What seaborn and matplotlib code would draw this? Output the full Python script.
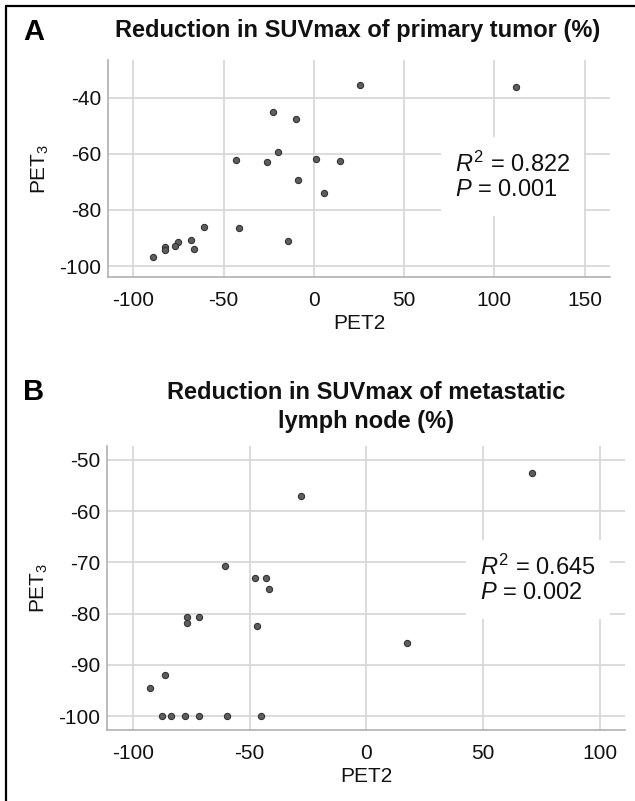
import matplotlib
matplotlib.use("Agg")
import matplotlib.pyplot as plt
from matplotlib.lines import Line2D
import seaborn as sns
import pandas as pd

# ---- data ----
pet2_a = [25.3, 112.0, -22.9, -10.0, -19.7, -43.2, -25.8, 1.1, 14.6, -8.9, 5.5,
          -60.7, -41.5, -14.4, -68.3, -66.4, -75.3, -76.9, -82.5, -82.5, -88.9]
pet3_a = [-35.4, -36.0, -44.9, -47.6, -59.4, -62.3, -62.9, -61.9, -62.6, -69.2, -74.1,
          -86.2, -86.6, -91.0, -90.6, -93.9, -91.3, -92.7, -93.3, -94.2, -96.8]

pet2_b = [71.1, -28.1, -60.7, -47.6, -43.0, -41.6, -76.6, -71.7, -76.6, -47.0, 17.4,
          -86.0, -92.6, -87.3, -83.5, -77.6, -71.7, -59.5, -45.2]
pet3_b = [-52.5, -57.1, -70.8, -73.0, -73.0, -75.1, -80.6, -80.6, -81.8, -82.4, -85.7,
          -91.9, -94.5, -100.0, -100.0, -100.0, -100.0, -100.0, -100.0]

title_a = "Reduction in SUVmax of primary tumor (%)"
title_b = "Reduction in SUVmax of metastatic\nlymph node (%)"
xticks_a = [-100, -50, 0, 50, 100, 150]
yticks_a = [-100, -80, -60, -40]
xticks_b = [-100, -50, 0, 50, 100]
yticks_b = [-100, -90, -80, -70, -60, -50]
stats_a = ("0.822", "0.001")
stats_b = ("0.645", "0.002")

sns.set_theme(style="whitegrid")
plt.rcParams['font.family'] = ['Liberation Sans', 'DejaVu Sans']
plt.rcParams['mathtext.fontset'] = 'custom'
plt.rcParams['mathtext.rm'] = 'Liberation Sans'
plt.rcParams['mathtext.it'] = 'Liberation Sans:italic'
plt.rcParams['mathtext.bf'] = 'Liberation Sans:bold'
plt.rcParams['axes.unicode_minus'] = False

W, H = 635, 801
fig = plt.figure(figsize=(W / 100, H / 100), dpi=100)

def px_axes(l, t, r, b):
    return fig.add_axes([l / W, 1 - b / H, (r - l) / W, (b - t) / H])

def style(ax, xticks, yticks, xlim, ylim):
    ax.set_xlim(*xlim)
    ax.set_ylim(*ylim)
    ax.set_xticks(xticks)
    ax.set_yticks(yticks)
    ax.grid(True, color='#d6d6d6', linewidth=1.2)
    for s in ['top', 'right']:
        ax.spines[s].set_visible(False)
    for s in ['left', 'bottom']:
        ax.spines[s].set_visible(True)
        ax.spines[s].set_color('#b0b0b0')
        ax.spines[s].set_linewidth(1.2)
    ax.tick_params(axis='both', length=0, labelsize=15, colors='#111111')
    ax.tick_params(axis='x', pad=10)
    ax.tick_params(axis='y', pad=5)
    ax.set_xlabel("PET2", fontsize=15, color='#111111', labelpad=3)
    ax.set_ylabel("PET$_3$", fontsize=15, color='#111111', labelpad=6)
    ax.set_facecolor('white')

def scatter(ax, x, y):
    df = pd.DataFrame({"PET2": x, "PET3": y})
    sns.scatterplot(data=df, x="PET2", y="PET3", ax=ax, s=20,
                    color='#5e5e5e', edgecolor='#333333', linewidth=0.8, zorder=3)

# Panel A
axA = px_axes(108, 60, 610, 277)
scatter(axA, pet2_a, pet3_a)
style(axA, xticks_a, yticks_a, (-114, 164), (-103.9, -26.5))
axA.text(0.691, 0.463, "$R^2$ = %s\n$P$ = %s" % stats_a, transform=axA.transAxes,
         ha='left', va='center', fontsize=17, color='#111111', linespacing=1.15,
         bbox=dict(boxstyle='square,pad=0.6', facecolor='white', edgecolor='none'), zorder=5)

# Panel B
axB = px_axes(107, 446, 625, 730)
scatter(axB, pet2_b, pet3_b)
style(axB, xticks_b, yticks_b, (-111, 110.7), (-102.7, -47.3))
axB.text(0.720, 0.530, "$R^2$ = %s\n$P$ = %s" % stats_b, transform=axB.transAxes,
         ha='left', va='center', fontsize=17, color='#111111', linespacing=1.15,
         bbox=dict(boxstyle='square,pad=0.6', facecolor='white', edgecolor='none'), zorder=5)

# Titles and panel letters
fig.text(358 / W, 1 - 30 / H, title_a, ha='center', va='center', fontsize=17,
         fontweight='bold', color='#111111')
fig.text(366 / W, 1 - 407 / H, title_b, ha='center', va='center', fontsize=17,
         fontweight='bold', color='#111111', linespacing=1.3)
fig.text(34 / W, 1 - 32 / H, "A", ha='center', va='center', fontsize=21,
         fontweight='bold', color='black')
fig.text(34 / W, 1 - 392 / H, "B", ha='center', va='center', fontsize=21,
         fontweight='bold', color='black')

# partial frame (top and left edges)
fig.add_artist(Line2D([6 / W, 1.0], [1 - 6 / H, 1 - 6 / H], color='black', linewidth=1.6,
                      transform=fig.transFigure))
fig.add_artist(Line2D([6 / W, 6 / W], [1 - 6 / H, 0.0], color='black', linewidth=1.6,
                      transform=fig.transFigure))

fig.savefig("out.png", dpi=100)
